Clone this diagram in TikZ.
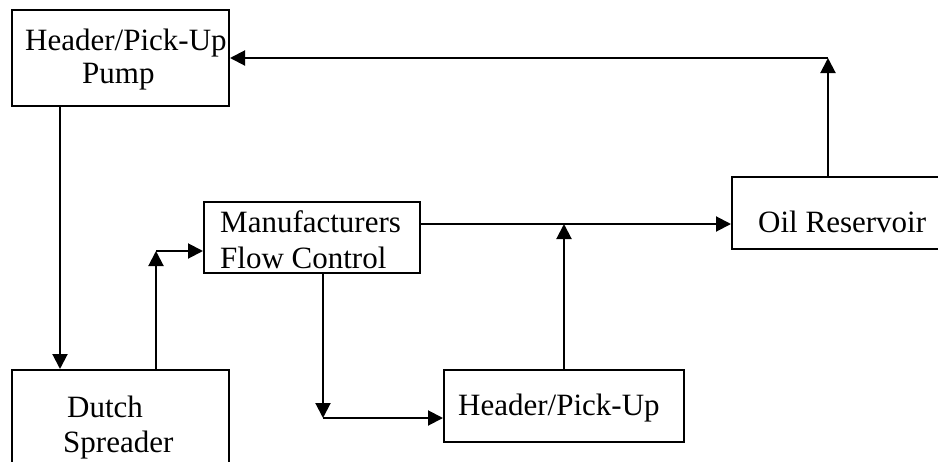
\documentclass[tikz,border=0pt]{standalone}
\usepackage{fontspec}
\setmainfont{Liberation Serif}
\usetikzlibrary{arrows.meta}
\begin{document}
\begin{tikzpicture}[x=1pt,y=-1pt,
  box/.style={draw,line width=2pt,rectangle,inner sep=0pt},
  lbl/.style={anchor=base west,inner sep=0pt,font=\fontsize{31}{35}\selectfont},
  flow/.style={line width=2pt,-{Triangle[length=15pt,width=15pt]}},
  wire/.style={line width=2pt}]
\useasboundingbox (0,0) rectangle (938,461);
\clip (0,0) rectangle (938,461);
\fill[white] (0,0) rectangle (938,461);

% boxes
\node[box,minimum width=217pt,minimum height=96pt] (pump) at (120.5,58) {};
\node[box,minimum width=217pt,minimum height=110pt] (dutch) at (120.5,425) {};
\node[box,minimum width=216pt,minimum height=71pt] (ctrl) at (312,237.5) {};
\node[box,minimum width=215pt,minimum height=72pt] (oil) at (839.5,213) {};
\node[box,minimum width=240pt,minimum height=72pt] (hpu) at (564,406) {};

% texts
\node[lbl] (t1) at (25,50) {Header/Pick-Up};
\node[lbl] (t2) at (82,83) {Pump};
\node[lbl] (t3) at (67,417) {Dutch};
\node[lbl] (t4) at (63,452) {Spreader};
\node[lbl] (t5) at (220,232) {Manufacturers};
\node[lbl] (t6) at (220,268) {Flow Control};
\node[lbl] (t7) at (758,232) {Oil Reservoir};
\node[lbl] (t8) at (458,415) {Header/Pick-Up};

% corners of the connectors
\coordinate (c1) at (156,251);
\coordinate (c2) at (323,418);
\coordinate (c3) at (564,224);
\coordinate (c4) at (828,58);

% connectors
\draw[flow] (pump.south -| 60,0) -- (dutch.north -| 60,0);
\draw[flow] (dutch.north -| c1) -- (c1);
\draw[flow] (c1) -- (ctrl.west |- c1);
\draw[wire] (ctrl.east |- c3) -- (c3);
\draw[flow] (c3) -- (oil.west |- c3);
\draw[flow] (hpu.north) -- (c3);
\draw[flow] (ctrl.south -| c2) -- (c2);
\draw[flow] (c2) -- (hpu.west |- c2);
\draw[flow] (oil.north -| c4) -- (c4);
\draw[flow] (c4) -- (pump.east |- c4);
\end{tikzpicture}
\end{document}
